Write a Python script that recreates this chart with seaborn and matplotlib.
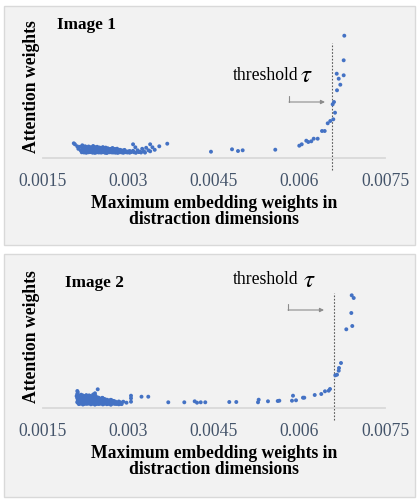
import numpy as np
import pandas as pd
import matplotlib
matplotlib.use("Agg")
import matplotlib.pyplot as plt
from matplotlib.patches import Rectangle
import seaborn as sns

sns.set_style("white")
plt.rcParams['font.family'] = ['Liberation Serif', 'DejaVu Serif']
plt.rcParams['mathtext.fontset'] = 'stix'
plt.rcParams['text.color'] = 'black'

# values, both axes in units of 1e-3
emb1_cluster = [2.06, 2.10, 2.12, 2.15, 2.16, 2.19, 2.20, 2.22, 2.24, 2.25,
                2.18, 2.26, 2.33, 2.41, 2.48, 2.55, 2.62, 2.70, 2.77, 2.84, 2.91, 2.98, 3.05,
                2.22, 2.30, 2.37, 2.44, 2.52, 2.59, 2.66, 2.73, 2.81, 2.88, 2.95, 3.02,
                2.20, 2.29, 2.37, 2.45, 2.52, 2.60, 2.68, 2.75, 2.83, 2.90, 2.97, 3.04,
                2.19, 2.26, 2.33, 2.40, 2.48, 2.55, 2.62, 2.70, 2.77, 2.84, 2.92, 2.99,
                2.22, 2.29, 2.36, 2.44, 2.51, 2.58, 2.66, 2.73, 2.80, 2.88, 2.95, 3.02,
                2.24, 2.31, 2.38, 2.46, 2.53, 2.60, 2.67, 2.74, 2.82, 2.90,
                2.21, 2.28, 2.35, 2.43, 2.50, 2.57, 2.64, 2.71, 2.78, 2.86,
                2.27, 2.34, 2.40, 2.47, 2.54, 2.61, 2.69, 2.76, 2.85, 2.93,
                2.23, 2.31, 2.38, 2.46, 2.53, 2.60, 2.68, 2.76,
                2.20, 2.27, 2.34, 2.41, 2.49, 2.56, 2.63, 2.70,
                2.28, 2.35, 2.43, 2.50, 2.57, 2.64, 2.72, 2.80,
                2.25, 2.33, 2.41, 2.49, 2.60,
                2.30, 2.38, 2.45, 2.55,
                3.08, 3.12, 3.16, 3.20, 3.24, 3.27, 3.31, 3.35, 3.38, 3.42, 3.46,
                3.13, 3.22, 3.38, 3.08, 3.54, 3.68, 2.04, 3.10, 3.18, 3.29]
att1_cluster = [14.0, 12.0, 9.5, 11.5, 8.0, 13.0, 10.0, 7.0, 12.0, 9.0,
                6.0, 5.5, 6.2, 5.4, 5.8, 6.1, 5.3, 5.9, 5.6, 6.0, 5.5, 5.8, 6.2,
                5.8, 6.0, 5.6, 5.9, 5.7, 5.5, 6.0, 5.8, 5.4, 5.9, 6.1, 5.6,
                6.8, 6.6, 6.9, 6.5, 6.7, 6.8, 6.6, 6.9, 6.5, 6.7, 6.4, 6.6,
                7.1, 7.3, 7.0, 7.4, 7.2, 6.9, 7.3, 7.0, 7.2, 6.9, 7.1, 6.8,
                7.4, 7.8, 7.2, 7.6, 7.9, 7.3, 7.5, 7.1, 7.7, 7.4, 7.0, 7.3,
                8.3, 8.1, 8.4, 8.2, 8.0, 8.3, 8.1, 7.9, 8.2, 7.8,
                8.7, 8.5, 8.8, 8.6, 8.4, 8.7, 8.5, 8.3, 8.6, 8.2,
                9.2, 8.8, 9.4, 9.0, 8.7, 9.1, 8.6, 8.9, 8.5, 8.4,
                9.8, 9.9, 9.7, 9.6, 9.9, 9.5, 9.4, 9.3,
                10.2, 10.0, 10.3, 10.1, 9.8, 10.0, 9.7, 9.5,
                10.6, 10.9, 10.2, 10.4, 10.0, 9.9, 10.3, 9.6,
                11.3, 11.0, 11.2, 10.8, 10.7,
                11.8, 12.3, 11.5, 11.2,
                7.5, 11.0, 8.0, 6.5, 9.5, 7.0, 10.5, 8.0, 7.0, 11.0, 8.5,
                5.5, 5.8, 14.0, 14.0, 12.0, 14.6, 15.0, 6.0, 6.2, 5.7]
emb1_tail = [4.447, 4.816, 4.921, 5.003, 5.575, 5.996, 6.039, 6.119, 6.154, 6.207,
             6.249, 6.319, 6.395, 6.442, 6.495, 6.540, 6.593, 6.623, 6.582, 6.605,
             6.658, 6.716, 6.775, 6.688, 6.653, 6.775, 6.786]
att1_tail = [6.6, 9.0, 7.3, 8.0, 8.6, 12.6, 14.0, 17.6, 16.3, 17.0,
             19.6, 19.6, 27.3, 27.3, 35.0, 37.3, 39.0, 45.6, 54.0, 56.3,
             68.0, 73.6, 83.0, 79.6, 84.6, 98.0, 122.6]

emb2_cluster = [2.13, 2.20, 2.27, 2.34, 2.41, 2.48, 2.55, 2.62, 2.69, 2.76, 2.83, 2.88,
                2.16, 2.23, 2.30, 2.37, 2.44, 2.51, 2.58, 2.65, 2.72, 2.79, 2.85,
                2.12, 2.19, 2.26, 2.33, 2.40, 2.47, 2.54, 2.61, 2.68, 2.75, 2.82, 2.87,
                2.10, 2.17, 2.24, 2.31, 2.38, 2.45, 2.52, 2.59, 2.66, 2.73, 2.80, 2.86,
                2.13, 2.20, 2.27, 2.34, 2.41, 2.48, 2.55, 2.62, 2.69, 2.76,
                2.14, 2.21, 2.28, 2.35, 2.42, 2.49, 2.56, 2.63, 2.70, 2.77, 2.83,
                2.11, 2.18, 2.25, 2.32, 2.39, 2.46, 2.53, 2.60, 2.67, 2.74,
                2.14, 2.21, 2.28, 2.35, 2.42, 2.49, 2.56, 2.63, 2.70,
                2.13, 2.20, 2.27, 2.34, 2.41, 2.48, 2.55, 2.62, 2.69,
                2.10, 2.16, 2.23, 2.30, 2.37, 2.44, 2.51, 2.58,
                2.13, 2.20, 2.27, 2.34, 2.41, 2.48, 2.55,
                2.12, 2.19, 2.26, 2.33, 2.40, 2.47, 2.54,
                2.09, 2.15, 2.21, 2.28, 2.36, 2.43,
                2.12, 2.18, 2.25, 2.33, 2.40,
                2.13, 2.20, 2.31, 2.42,
                2.10, 2.17, 2.26, 2.38, 2.11,
                3.044, 3.044, 3.044, 3.228, 3.347, 2.965, 2.909, 2.46, 2.102, 2.412]
att2_cluster = [4.2, 3.8, 4.5, 4.0, 3.7, 4.3, 3.9, 4.1, 3.6, 4.4, 4.0, 4.2,
                4.6, 4.4, 4.7, 4.5, 4.3, 4.6, 4.5, 4.4, 4.6, 4.3, 4.5,
                5.0, 5.2, 4.9, 5.1, 5.3, 4.8, 5.0, 5.2, 4.9, 5.1, 4.8, 5.0,
                6.1, 5.8, 6.4, 5.9, 6.2, 5.7, 6.0, 6.3, 5.8, 6.1, 5.6, 5.9,
                6.6, 6.7, 6.5, 6.6, 6.8, 6.4, 6.5, 6.7, 6.3, 6.4,
                7.0, 7.2, 6.9, 7.1, 7.3, 6.8, 7.0, 6.9, 7.1, 6.7, 6.8,
                8.2, 7.8, 8.4, 7.9, 8.1, 7.7, 8.3, 7.6, 7.9, 7.4,
                8.6, 8.4, 8.7, 8.5, 8.6, 8.3, 8.4, 8.2, 8.1,
                9.1, 8.9, 9.2, 8.8, 9.0, 9.1, 8.7, 8.6, 8.5,
                10.3, 9.8, 10.1, 10.4, 9.7, 10.0, 9.6, 9.3,
                10.6, 10.5, 10.7, 10.4, 10.3, 10.2, 10.0,
                11.0, 11.2, 10.9, 11.1, 10.8, 10.7, 10.5,
                12.2, 11.8, 12.4, 11.6, 12.0, 11.5,
                12.5, 12.3, 12.1, 12.2, 11.9,
                13.0, 12.8, 12.9, 12.6,
                14.1, 13.6, 13.2, 13.8, 16.0,
                12.6, 6.6, 10.0, 11.6, 11.6, 5.6, 6.6, 19.0, 17.3, 15.0]
emb2_tail = [3.698, 3.979, 4.161, 4.202, 4.267, 4.347, 4.768, 4.891, 5.272, 5.284,
             5.447, 5.618, 5.646, 5.868, 5.886, 5.939, 6.061, 6.084, 6.267, 6.382,
             6.447, 6.512, 6.535, 6.628, 6.658, 6.688, 6.693, 6.728, 6.821, 6.926,
             6.909, 6.951, 6.916]
att2_tail = [6.0, 6.0, 7.0, 5.6, 6.0, 6.0, 6.3, 6.3, 6.0, 8.6,
             7.0, 7.3, 7.6, 7.6, 12.6, 8.0, 10.6, 10.6, 13.3, 14.3,
             17.0, 17.6, 19.3, 33.0, 33.6, 37.6, 40.3, 45.3, 79.0, 82.3,
             95.3, 110.3, 113.0]

xticks = [0.0015, 0.003, 0.0045, 0.006, 0.0075]
xtick_labels = ["0.0015", "0.003", "0.0045", "0.006", "0.0075"]
threshold = [0.00657, 0.006605]
panel_titles = ["Image 1", "Image 2"]

W, H = 418, 500
fig = plt.figure(figsize=(W / 100, H / 100), dpi=100)
fig.patch.set_facecolor("white")

def fx(x):
    return x / W

def fy(y):
    return 1 - y / H

blue = "#4472C4"
fs = 12.7

panels = [(emb1_cluster + emb1_tail, att1_cluster + att1_tail),
          (emb2_cluster + emb2_tail, att2_cluster + att2_tail)]

for i, (emb, att) in enumerate(panels):
    dy = 250 * i
    # panel background box
    top, bot = (6, 245) if i == 0 else (254, 497)
    fig.patches.append(Rectangle((fx(4), fy(bot)), (415 - 4) / W, (bot - top) / H,
                                 transform=fig.transFigure, facecolor="#F2F2F2",
                                 edgecolor="#D9D9D9", lw=1, zorder=-5))

    ax = fig.add_axes([fx(43), fy(158.3 + dy), (385 - 43) / W, 130 / H])
    ax.set_facecolor("none")
    df = pd.DataFrame({"emb": np.array(emb) / 1000, "att": np.array(att) / 1000})
    sns.scatterplot(data=df, x="emb", y="att", ax=ax, s=8, color=blue,
                    edgecolor="none", linewidth=0, clip_on=False, zorder=3)
    ax.set_xlim(0.0015, 0.0075)
    ax.set_ylim(0, 0.130)
    ax.set_xticks(xticks)
    ax.set_xticklabels(xtick_labels)
    ax.set_yticks([])
    ax.set_xlabel("")
    ax.set_ylabel("")
    ax.tick_params(axis="x", length=0, pad=10.5, labelsize=fs, labelcolor="#44546A")
    for s in ["left", "top", "right"]:
        ax.spines[s].set_visible(False)
    ax.spines["bottom"].set_color("#D9D9D9")
    ax.spines["bottom"].set_linewidth(1.3)

    # threshold line
    ax.plot([threshold[i], threshold[i]], [-0.0117, 0.1155], color="#595959",
            lw=0.8, ls=(0, (1.5, 1.5)), clip_on=False, zorder=2)

    # elbow arrow
    if i == 0:
        x0, y0, y1, x1 = 0.005816, 0.0623, 0.0563, 0.006447
    else:
        x0, y0, y1, x1 = 0.005798, 0.1043, 0.0983, 0.00643
    ax.plot([x0, x0], [y0, y1], color="#8C8C8C", lw=0.8)
    ax.annotate("", xy=(x1, y1), xytext=(x0, y1),
                arrowprops=dict(arrowstyle="-|>", color="#8C8C8C", lw=0.8,
                                mutation_scale=6, shrinkA=0, shrinkB=0))

    ty = 75 if i == 0 else 280
    taux = 300 if i == 0 else 303
    fig.text(fx(233), fy(ty), "threshold", fontsize=fs, va="center", ha="left")
    fig.text(fx(taux), fy(ty + 1), r"$\tau$", fontsize=18, va="center", ha="left")

    tx = 57 if i == 0 else 65
    fig.text(fx(tx), fy(25 + dy + (8 if i else 0)), panel_titles[i], fontsize=12.4,
             fontweight="bold", va="center", ha="left")
    fig.text(fx(32), fy(87 + dy), "Attention weights", fontsize=fs, fontweight="bold",
             rotation=90, va="center", ha="center")
    fig.text(fx(214), fy(203 + dy), "Maximum embedding weights in", fontsize=fs,
             fontweight="bold", va="center", ha="center")
    fig.text(fx(214), fy(220 + dy), "distraction dimensions", fontsize=fs,
             fontweight="bold", va="center", ha="center")

plt.savefig("out.png", dpi=100)
